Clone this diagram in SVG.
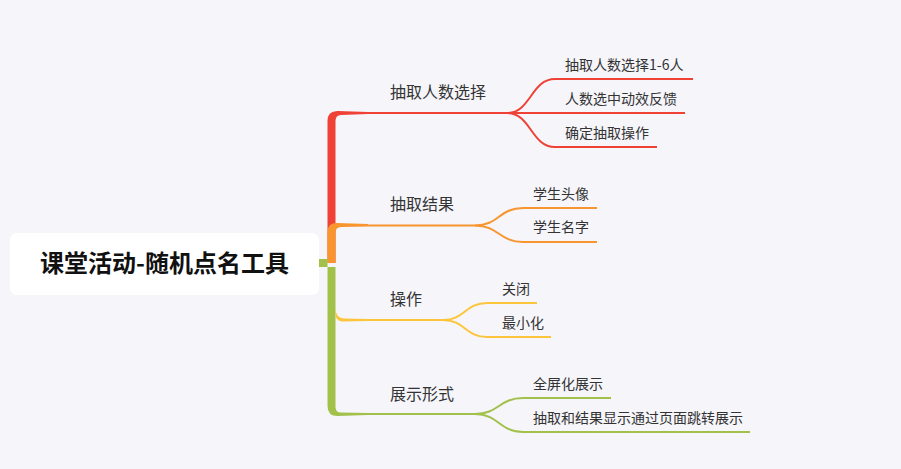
<svg xmlns="http://www.w3.org/2000/svg" width="901" height="469" viewBox="0 0 901 469">
<style>
.bg{fill:#f5f5fa}
.lbl{font-family:"Noto Sans CJK SC","Noto Sans",sans-serif;font-size:16px;fill:#333}
.sub{font-family:"Noto Sans CJK SC","Noto Sans",sans-serif;font-size:14px;fill:#333}
.root{font-family:"Noto Sans CJK SC","Noto Sans",sans-serif;font-size:24px;font-weight:bold;fill:#111}
.ln{fill:none;stroke-width:2;stroke-linecap:butt}
.r{stroke:#ef4136}.o{stroke:#f8952e}.y{stroke:#fcc53b}.g{stroke:#a2c14b}
.fr{fill:#ef4136}.fo{fill:#f8952e}.fy{fill:#fcc53b}.fg{fill:#a2c14b}
</style>
<rect class="bg" x="0" y="0" width="901" height="469"/>
<g id="connectors">
  <!-- trunk pieces -->
  <path class="fr" d="M327.5 263 L327.5 121 Q327.5 111 337.5 111 L368 112 L368 114 L341 115 Q335.5 115 335.5 121 L335.5 263 Z"/>
  <path class="fo" d="M327.5 263 L327.5 232 Q327.5 223 336.5 223 L368 224 L368 226.5 L341 227 Q335.5 227 335.5 233 L335.5 263 Z"/>
  <path class="fg" d="M319 259 L327.5 259 L327.5 259 L327.5 263 L327.5 406 Q327.5 416 337.5 416 L368 415 L368 413 L341 412.5 Q335.5 412.5 335.5 407 L335.5 263 L335.5 267 L319 267 Z"/>
  <path class="fy" d="M335.5 309 Q336 318 344 318.5 L368 319 L368 321 L342 321.5 Q335.5 321 335.5 314 Z"/>
  <!-- red -->
  <path class="ln r" d="M368 113 L685 113"/>
  <path class="ln r" d="M507 113 C531 113 531 79 555 79 L693 79"/>
  <path class="ln r" d="M507 113 C531 113 531 147 555 147 L657 147"/>
  <!-- orange -->
  <path class="ln o" d="M368 225.5 L475 225.5 C499 225.5 499 208 523 208 L597 208"/>
  <path class="ln o" d="M475 225.5 C499 225.5 499 242 523 242 L597 242"/>
  <!-- yellow -->
  <path class="ln y" d="M368 320 L443 320 C465 320 465 303 487 303 L537 303"/>
  <path class="ln y" d="M443 320 C465 320 465 337 487 337 L551 337"/>
  <!-- green -->
  <path class="ln g" d="M368 414 L475 414 C499 414 499 398 523 398 L611 398"/>
  <path class="ln g" d="M475 414 C499 414 499 432 523 432 L750 432"/>
</g>
<g id="root">
  <rect x="10" y="233" width="309" height="62" rx="7" fill="#ffffff"/>
  <text class="root" x="164.5" y="272" text-anchor="middle">课堂活动-随机点名工具</text>
</g>
<g id="n1"><text class="lbl" x="390" y="98">抽取人数选择</text></g>
<g id="n1a"><text class="sub" x="565" y="70">抽取人数选择1-6人</text></g>
<g id="n1b"><text class="sub" x="565" y="104">人数选中动效反馈</text></g>
<g id="n1c"><text class="sub" x="565" y="138">确定抽取操作</text></g>
<g id="n2"><text class="lbl" x="390" y="210">抽取结果</text></g>
<g id="n2a"><text class="sub" x="533" y="199">学生头像</text></g>
<g id="n2b"><text class="sub" x="533" y="232">学生名字</text></g>
<g id="n3"><text class="lbl" x="390" y="305">操作</text></g>
<g id="n3a"><text class="sub" x="502" y="294">关闭</text></g>
<g id="n3b"><text class="sub" x="502" y="328">最小化</text></g>
<g id="n4"><text class="lbl" x="390" y="400">展示形式</text></g>
<g id="n4a"><text class="sub" x="533" y="389">全屏化展示</text></g>
<g id="n4b"><text class="sub" x="533" y="423">抽取和结果显示通过页面跳转展示</text></g>
</svg>
